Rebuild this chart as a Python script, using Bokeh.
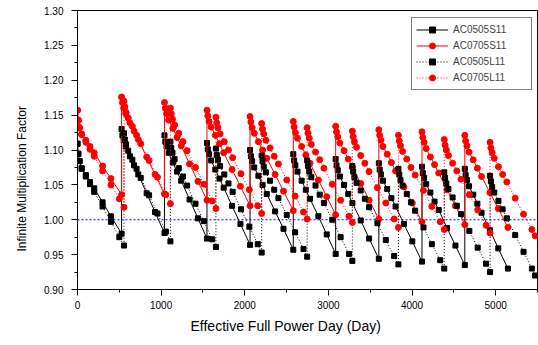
from bokeh.plotting import figure
from bokeh.models import Range1d, FixedTicker, Legend, LegendItem, NumeralTickFormatter, Title
from bokeh.embed import file_html
from bokeh.resources import INLINE

# ---------------- data ----------------
days_s = [
    0, 10, 25, 50, 100, 150, 200, 300, 400, 527,
    527, 537, 552, 577, 627, 677, 727, 827, 927, 1040,
    1040, 1050, 1065, 1090, 1140, 1190, 1240, 1340, 1440, 1548,
    1548, 1558, 1573, 1598, 1648, 1698, 1748, 1848, 1948, 2063,
    2063, 2073, 2088, 2113, 2163, 2213, 2263, 2363, 2463, 2580,
    2580, 2590, 2605, 2630, 2680, 2730, 2780, 2880, 2980, 3087,
    3087, 3097, 3112, 3137, 3187, 3237, 3287, 3387, 3487, 3603,
    3603, 3613, 3628, 3653, 3703, 3753, 3803, 3903, 4003, 4119,
    4119, 4129, 4144, 4169, 4219, 4269, 4319, 4419, 4519, 4631,
    4631, 4641, 4656, 4681, 4731, 4781, 4831, 4931, 5031, 5146,
]

k_ac0505s11 = [
    1.109, 1.095, 1.084, 1.074, 1.064, 1.054, 1.045, 1.025, 1.005, 0.980,
    1.130, 1.121, 1.114, 1.105, 1.091, 1.078, 1.065, 1.038, 1.011, 0.981,
    1.121, 1.112, 1.105, 1.096, 1.082, 1.069, 1.056, 1.029, 1.002, 0.973,
    1.110, 1.101, 1.094, 1.085, 1.072, 1.059, 1.046, 1.020, 0.994, 0.964,
    1.100, 1.091, 1.084, 1.075, 1.063, 1.050, 1.037, 1.012, 0.987, 0.957,
    1.094, 1.085, 1.078, 1.069, 1.056, 1.043, 1.030, 1.005, 0.979, 0.951,
    1.087, 1.078, 1.071, 1.062, 1.050, 1.037, 1.024, 0.999, 0.973, 0.944,
    1.081, 1.072, 1.065, 1.056, 1.044, 1.031, 1.019, 0.994, 0.969, 0.940,
    1.076, 1.067, 1.060, 1.051, 1.039, 1.026, 1.014, 0.988, 0.963, 0.935,
    1.073, 1.064, 1.057, 1.048, 1.036, 1.023, 1.010, 0.985, 0.959, 0.930,
]

k_ac0705s11 = [
    1.157, 1.143, 1.132, 1.123, 1.114, 1.105, 1.096, 1.077, 1.059, 1.036,
    1.176, 1.168, 1.160, 1.152, 1.139, 1.127, 1.115, 1.090, 1.065, 1.037,
    1.168, 1.160, 1.152, 1.143, 1.131, 1.118, 1.106, 1.080, 1.055, 1.028,
    1.157, 1.149, 1.141, 1.133, 1.121, 1.109, 1.096, 1.072, 1.048, 1.020,
    1.148, 1.140, 1.132, 1.124, 1.112, 1.100, 1.088, 1.065, 1.041, 1.013,
    1.141, 1.133, 1.125, 1.117, 1.105, 1.093, 1.081, 1.057, 1.033, 1.007,
    1.134, 1.126, 1.119, 1.110, 1.099, 1.087, 1.075, 1.052, 1.028, 1.001,
    1.129, 1.121, 1.114, 1.105, 1.094, 1.082, 1.070, 1.047, 1.024, 0.997,
    1.126, 1.118, 1.111, 1.102, 1.090, 1.079, 1.067, 1.043, 1.020, 0.993,
    1.121, 1.113, 1.106, 1.097, 1.086, 1.074, 1.062, 1.039, 1.016, 0.989,
]

days_l = [
    0, 10, 25, 50, 100, 150, 200, 300, 400, 500, 556,
    556, 566, 581, 606, 656, 706, 756, 856, 956, 1056, 1111,
    1111, 1121, 1136, 1161, 1211, 1261, 1311, 1411, 1511, 1611, 1655,
    1655, 1665, 1680, 1705, 1755, 1805, 1855, 1955, 2055, 2155, 2202,
    2202, 2212, 2227, 2252, 2302, 2352, 2402, 2502, 2602, 2702, 2746,
    2746, 2756, 2771, 2796, 2846, 2896, 2946, 3046, 3146, 3246, 3286,
    3286, 3296, 3311, 3336, 3386, 3436, 3486, 3586, 3686, 3786, 3837,
    3837, 3847, 3862, 3887, 3937, 3987, 4037, 4137, 4237, 4337, 4385,
    4385, 4395, 4410, 4435, 4485, 4535, 4585, 4685, 4785, 4885, 4933,
    4933, 4943, 4958, 4983, 5033, 5083, 5133, 5233, 5333, 5433, 5472,
]

k_ac0505l11 = [
    1.109, 1.094, 1.084, 1.073, 1.062, 1.051, 1.040, 1.019, 0.997, 0.975, 0.963,
    1.124, 1.115, 1.108, 1.099, 1.086, 1.073, 1.060, 1.035, 1.009, 0.983, 0.969,
    1.112, 1.103, 1.096, 1.087, 1.074, 1.062, 1.049, 1.023, 0.998, 0.972, 0.961,
    1.102, 1.093, 1.086, 1.077, 1.065, 1.052, 1.040, 1.015, 0.990, 0.965, 0.953,
    1.092, 1.084, 1.076, 1.068, 1.056, 1.043, 1.031, 1.007, 0.982, 0.958, 0.947,
    1.085, 1.077, 1.069, 1.061, 1.049, 1.036, 1.024, 1.000, 0.975, 0.951, 0.941,
    1.077, 1.069, 1.061, 1.053, 1.042, 1.030, 1.018, 0.995, 0.971, 0.948, 0.936,
    1.073, 1.065, 1.057, 1.049, 1.037, 1.025, 1.013, 0.989, 0.965, 0.942, 0.930,
    1.068, 1.060, 1.052, 1.044, 1.032, 1.020, 1.008, 0.984, 0.960, 0.937, 0.925,
    1.063, 1.055, 1.047, 1.039, 1.027, 1.015, 1.002, 0.978, 0.954, 0.930, 0.920,
]

k_ac0705l11 = [
    1.157, 1.142, 1.132, 1.122, 1.111, 1.101, 1.091, 1.070, 1.050, 1.030, 1.018,
    1.170, 1.162, 1.154, 1.146, 1.134, 1.121, 1.109, 1.085, 1.061, 1.036, 1.023,
    1.160, 1.152, 1.144, 1.136, 1.124, 1.112, 1.099, 1.075, 1.051, 1.027, 1.016,
    1.147, 1.139, 1.132, 1.123, 1.112, 1.100, 1.089, 1.066, 1.043, 1.020, 1.009,
    1.138, 1.130, 1.123, 1.114, 1.103, 1.091, 1.080, 1.057, 1.034, 1.011, 1.001,
    1.132, 1.124, 1.117, 1.108, 1.097, 1.086, 1.074, 1.051, 1.028, 1.005, 0.996,
    1.127, 1.119, 1.112, 1.104, 1.092, 1.081, 1.069, 1.046, 1.024, 1.001, 0.989,
    1.121, 1.113, 1.106, 1.098, 1.087, 1.075, 1.064, 1.042, 1.019, 0.997, 0.986,
    1.115, 1.107, 1.100, 1.092, 1.081, 1.070, 1.058, 1.036, 1.014, 0.992, 0.981,
    1.111, 1.103, 1.096, 1.088, 1.076, 1.065, 1.054, 1.031, 1.008, 0.986, 0.977,
]

ref_days = [0, 5500]
ref_k = [1.0, 1.0]

x_ticks = [0, 1000, 2000, 3000, 4000, 5000]
x_minor = [500, 1500, 2500, 3500, 4500, 5500]
y_ticks = [0.90, 0.95, 1.00, 1.05, 1.10, 1.15, 1.20, 1.25, 1.30]
y_minor = [0.925, 0.975, 1.025, 1.075, 1.125, 1.175, 1.225, 1.275]

FONT = "Liberation Sans"

# ---------------- figure ----------------
p = figure(width=538, height=345, output_backend="svg", toolbar_location=None,
           x_range=Range1d(0, 5500), y_range=Range1d(0.90, 1.30),
           min_border_left=77, min_border_right=1, min_border_top=10,
           min_border_bottom=56)
p.background_fill_color = "white"
p.border_fill_color = "white"
p.outline_line_color = "black"
p.outline_line_width = 1
p.xgrid.visible = False
p.ygrid.visible = False

for ax in (p.xaxis[0], p.yaxis[0]):
    ax.axis_line_color = "black"
    ax.major_tick_line_color = "black"
    ax.minor_tick_line_color = "black"
    ax.major_tick_out = 6
    ax.major_tick_in = 0
    ax.minor_tick_out = 3
    ax.minor_tick_in = 0
    ax.major_label_text_font = FONT
    ax.major_label_text_font_size = "10px"
    ax.major_label_text_color = "black"

p.xaxis[0].ticker = FixedTicker(ticks=x_ticks, minor_ticks=x_minor)
p.yaxis[0].ticker = FixedTicker(ticks=y_ticks, minor_ticks=y_minor)
p.yaxis[0].formatter = NumeralTickFormatter(format="0.00")
p.xaxis[0].major_label_standoff = 5
p.yaxis[0].major_label_standoff = 8

# reference line at k = 1
p.line(ref_days, ref_k, line_color="#0000FF", line_width=1, line_dash="2 2")

l1 = p.line(days_s, k_ac0505s11, line_color="black", line_width=1)
m1 = p.scatter(days_s, k_ac0505s11, marker="square", size=5, fill_color="black", line_color="black")
l2 = p.line(days_s, k_ac0705s11, line_color="#FF0000", line_width=1)
m2 = p.scatter(days_s, k_ac0705s11, marker="circle", size=6, fill_color="#FF0000", line_color="#FF0000")
l3 = p.line(days_l, k_ac0505l11, line_color="black", line_width=1, line_dash="1 2")
m3 = p.scatter(days_l, k_ac0505l11, marker="square", size=5, fill_color="black", line_color="black")
l4 = p.line(days_l, k_ac0705l11, line_color="#FF0000", line_width=1, line_dash="1 2")
m4 = p.scatter(days_l, k_ac0705l11, marker="circle", size=6, fill_color="#FF0000", line_color="#FF0000")

legend = Legend(items=[
    LegendItem(label="AC0505S11", renderers=[l1, m1]),
    LegendItem(label="AC0705S11", renderers=[l2, m2]),
    LegendItem(label="AC0505L11", renderers=[l3, m3]),
    LegendItem(label="AC0705L11", renderers=[l4, m4]),
], location=(334, 199))
legend.border_line_color = "black"
legend.border_line_width = 1
legend.background_fill_color = "white"
legend.background_fill_alpha = 1
legend.padding = 4
legend.spacing = 1
legend.margin = 0
legend.glyph_width = 32
legend.glyph_height = 15
legend.label_height = 15
legend.label_width = 74
legend.label_standoff = 5
legend.label_text_font = FONT
legend.label_text_font_size = "10px"
p.add_layout(legend, "center")

xtitle = Title(text="Effective Full Power Day (Day)", align="left", offset=113,
               text_font=FONT, text_font_size="14px", text_font_style="normal",
               text_color="black", standoff=8)
ytitle = Title(text="Infinite Multiplication Factor", align="left", offset=38,
               text_font=FONT, text_font_size="12px", text_font_style="normal",
               text_color="black", standoff=25)
p.add_layout(xtitle, "below")
p.add_layout(ytitle, "left")

open("out.html", "w").write(file_html(p, INLINE))
